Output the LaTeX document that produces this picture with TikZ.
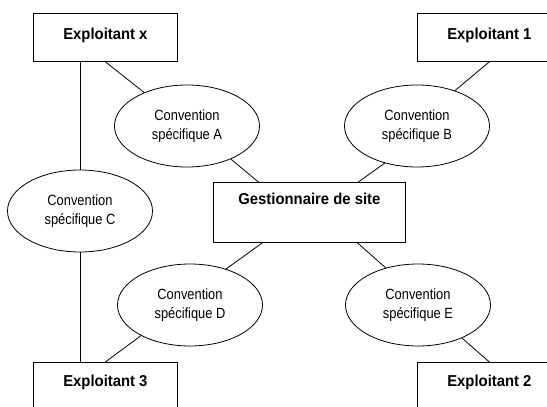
\documentclass[tikz,border=0pt]{standalone}
\usepackage{fontspec}
\setmainfont{Liberation Sans}
\newfontfamily\convfont[FakeStretch=0.87]{Liberation Sans}
\newfontfamily\partyfont[FakeStretch=0.94]{Liberation Sans}
\usetikzlibrary{shapes.geometric,calc}
\begin{document}
\begin{tikzpicture}[x=1pt,y=-1pt,
  party/.style={draw, line width=0.8pt, rectangle, inner sep=0pt,
    minimum width=144pt, anchor=north west,
    font=\partyfont\fontsize{15.8}{18}\selectfont\bfseries},
  conv/.style={draw, line width=0.8pt, ellipse, inner sep=0pt,
    minimum width=145pt, minimum height=82pt, align=center,
    font=\convfont\fontsize{14.8}{19}\selectfont},
  link/.style={line width=0.8pt}]
\useasboundingbox (0,0) rectangle (547,407);
\clip (0,0) rectangle (547,407);

% operators and site manager
\node[party, text height=26pt, text depth=22pt] (ex) at (33,13) {Exploitant x};
\node[party, text height=26pt, text depth=22pt] (e1) at (417,13) {Exploitant 1};
\node[party, text height=24pt, text depth=40pt] (e3) at (33,362) {Exploitant 3};
\node[party, text height=24pt, text depth=40pt] (e2) at (417,362) {Exploitant 2};
\node[party, minimum width=192pt, text height=22pt, text depth=38pt] (g) at (213,182) {Gestionnaire de site};

% specific agreements
\node[conv] (A) at (187,126) {Convention\\spécifique A};
\node[conv] (B) at (417,126) {Convention\\spécifique B};
\node[conv] (C) at (80,211) {Convention\\spécifique C};
\node[conv] (D) at (190,305) {Convention\\spécifique D};
\node[conv] (E) at (418,305) {Convention\\spécifique E};

% links
\draw[link] (C.north |- ex.south) -- (C.north);
\draw[link] (C.south) -- (C.south |- e3.north);
\draw[link] (ex.south) -- (A.142);
\draw[link] (A.-37) -- ($(g.north)+(-51,0)$);
\draw[link] (e1.south) -- (B.43);
\draw[link] (B.229) -- ($(g.north)+(49,0)$);
\draw[link] ($(g.south)+(-47,0)$) -- (D.45);
\draw[link] (D.212) -- (e3.north);
\draw[link] ($(g.south)+(48,0)$) -- (E.131);
\draw[link] (E.323) -- (e2.north);
\end{tikzpicture}
\end{document}
